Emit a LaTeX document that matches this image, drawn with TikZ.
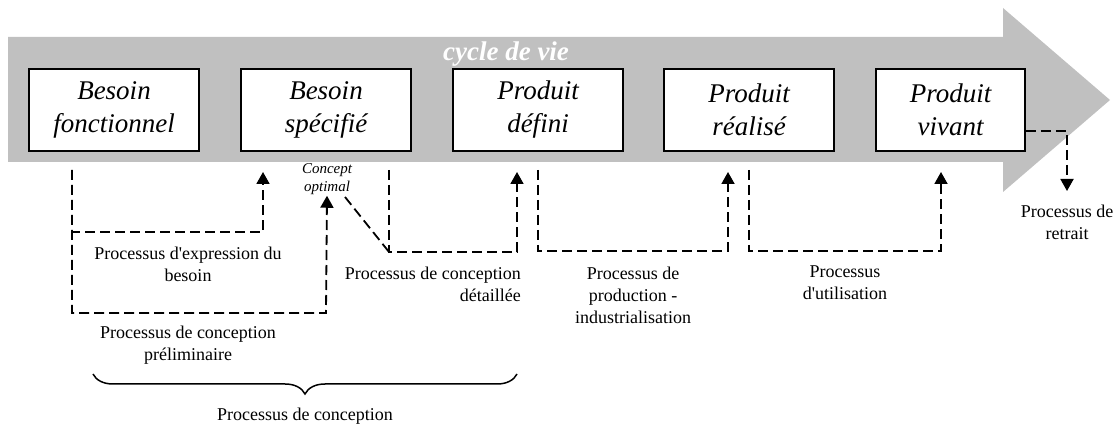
\documentclass[tikz,border=0pt]{standalone}
\usepackage{fontspec}
\setmainfont{Liberation Serif}[Ligatures=TeXOff]
\usetikzlibrary{arrows.meta,decorations.pathreplacing}
\definecolor{bandgray}{HTML}{C0C0C0}
\begin{document}
\begin{tikzpicture}[x=1pt,y=-1pt,
  stage/.style={draw=black,line width=1.6pt,fill=white,minimum height=82pt,minimum width=170pt,
    align=center,inner sep=0pt,font=\fontsize{27}{33}\selectfont\itshape},
  lbl/.style={align=center,inner sep=0pt,font=\fontsize{18}{22}\selectfont},
  dl/.style={line width=1.8pt,dash pattern=on 10pt off 5pt},
  tip/.style={-{Triangle[length=12pt,width=13pt]}}]
\useasboundingbox (0,0) rectangle (1117,427);
% life-cycle arrow
\fill[bandgray] (8,37) -- (1003,37) -- (1003,8) -- (1110,100) -- (1003,192) -- (1003,162) -- (8,162) -- cycle;
\node[text=white,font=\fontsize{27}{33}\selectfont\bfseries\itshape,inner sep=0pt] (cv) at (506,54) {cycle de vie};
% stages
\node[stage] (b1) at (114,110) {Besoin\\fonctionnel};
\node[stage] (b2) at (326,110) {Besoin\\spécifié};
\node[stage] (b3) at (538,110) {Produit\\défini};
\node[stage] (b4) at (749,110) {Produit\\réalisé};
\node[stage,minimum width=149pt] (b5) at (950.5,110) {Produit\\vivant};
% concept optimal
\node[align=center,inner sep=1pt,font=\fontsize{15}{18}\selectfont\itshape] (co) at (327,179) {Concept\\optimal};
% connector ends
\coordinate (s1) at (72,170);
\coordinate (t2) at (263,172);
\coordinate (s2) at (389,170);
\coordinate (c2) at (389,252);
\coordinate (t3) at (517,172);
\coordinate (s3) at (538,170);
\coordinate (t4) at (728,172);
\coordinate (s4) at (749,170);
\coordinate (t5) at (941,172);
\coordinate (r) at (1067,191);
\coordinate (cd) at (345,197);
% processes
\draw[dl,tip] (s1) |- (263,232) -- (t2);
\draw[dl,tip] (s1) |- (326,313) -- (co.south);
\draw[dl,tip] (s2) |- (517,252) -- (t3);
\draw[dl] (cd) -- (c2);
\draw[dl,tip] (s3) |- (728,251) -- (t4);
\draw[dl,tip] (s4) |- (941,251) -- (t5);
\draw[dl,tip] ([yshift=-21pt]b5.east) -| (r);
% labels
\node[lbl] (l1) at (188,264) {Processus d'expression du\\besoin};
\node[lbl] (l2) at (188,345) {Processus de conception\\préliminaire};
\node[lbl,align=right,anchor=east] (l3) at (521,284) {Processus de conception\\détaillée};
\node[lbl] (l4) at (633,295) {Processus de\\production -\\industrialisation};
\node[lbl] (l5) at (845,283) {Processus\\d'utilisation};
\node[lbl] (l6) at (1067,222) {Processus de\\retrait};
% brace
\draw[line width=1.5pt,decorate,decoration={brace,mirror,amplitude=20pt}] (93,374) -- (517,374);
\node[lbl] (l7) at (305,416) {Processus de conception};
\end{tikzpicture}
\end{document}
